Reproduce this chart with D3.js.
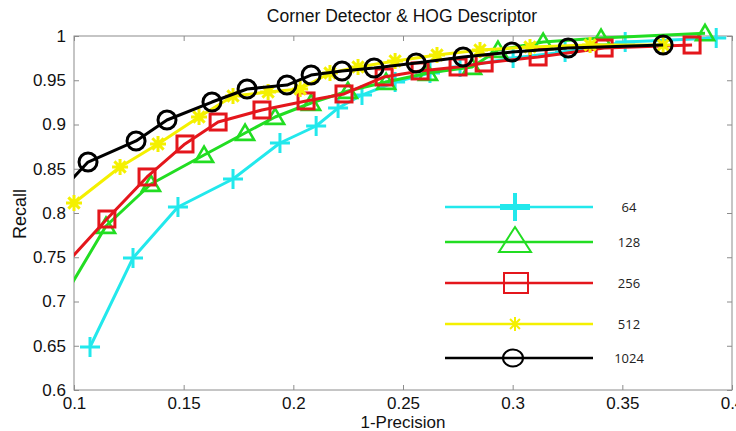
<!DOCTYPE html>
<html>
<head>
<meta charset="utf-8">
<script src="https://cdn.jsdelivr.net/npm/d3@7"></script>
<style>
  html, body { margin: 0; padding: 0; background: #fff; }
  svg { display: block; }
</style>
</head>
<body>
<svg id="chart" width="736" height="431"></svg>
<script>
// ---------- data ----------
const seriesNames = ["64", "128", "256", "512", "1024"];

const xTicks = [0.1, 0.15, 0.2, 0.25, 0.3, 0.35, 0.4];
const yTicks = [0.6, 0.65, 0.7, 0.75, 0.8, 0.85, 0.9, 0.95, 1];

const x64 = [0.1073, 0.1269, 0.1474, 0.1725, 0.1939, 0.2104, 0.2204, 0.2313, 0.2464, 0.2623, 0.276, 0.3002, 0.3239, 0.3513, 0.3928];
const y64 = [0.6486, 0.7492, 0.8068, 0.8384, 0.8791, 0.8983, 0.9186, 0.9333, 0.948, 0.9582, 0.965, 0.9751, 0.9819, 0.9932, 0.9977];

const x128 = [0.09, 0.1146, 0.1351, 0.1593, 0.178, 0.1917, 0.2081, 0.2249, 0.2423, 0.2614, 0.2815, 0.2933, 0.3139, 0.3403, 0.3877];
const y128 = [0.6825, 0.7853, 0.8328, 0.8655, 0.8904, 0.9085, 0.9243, 0.9379, 0.948, 0.9582, 0.965, 0.9842, 0.9932, 0.9977, 1.003];

const x256 = [0.09, 0.115, 0.1333, 0.1506, 0.1657, 0.1857, 0.2058, 0.2231, 0.2414, 0.2578, 0.2751, 0.287, 0.3116, 0.3417, 0.3818];
const y256 = [0.7254, 0.7932, 0.8407, 0.878, 0.9028, 0.9164, 0.9266, 0.9345, 0.9537, 0.9605, 0.965, 0.9695, 0.9763, 0.9864, 0.9898];

const x512 = [0.1, 0.121, 0.1383, 0.157, 0.1725, 0.1885, 0.2031, 0.2167, 0.2295, 0.2464, 0.2655, 0.2851, 0.3079, 0.3353, 0.3686];
const y512 = [0.8113, 0.852, 0.878, 0.9085, 0.9322, 0.9367, 0.9401, 0.9582, 0.965, 0.9718, 0.9785, 0.9842, 0.9876, 0.9898, 0.9898];

const x1024 = [0.09, 0.1064, 0.1283, 0.1424, 0.1629, 0.1789, 0.1971, 0.2081, 0.2222, 0.2368, 0.256, 0.2774, 0.2997, 0.3253, 0.3686];
const y1024 = [0.8143, 0.8576, 0.8814, 0.9051, 0.9254, 0.9401, 0.9446, 0.9559, 0.9605, 0.9638, 0.9695, 0.9763, 0.9819, 0.9864, 0.9898];

const xs = [x64, x128, x256, x512, x1024];
const ys = [y64, y128, y256, y512, y1024];

// ---------- styles ----------
const colors = ["#22e8ec", "#22dd22", "#e4161c", "#f4f000", "#000000"];
const shapes = ["plus", "triangle", "square", "star", "circle"];

const svg = d3.select("#chart");
const L = 74, R = 732, T = 36, B = 390;
const x = d3.scaleLinear().domain([0.1, 0.4]).range([L, R]);
const y = d3.scaleLinear().domain([0.6, 1]).range([B, T]);

const axisColor = "#8c8c8c";
const tickFont = "'Liberation Sans', Arial, sans-serif";

// frame
svg.append("rect").attr("x", L).attr("y", T).attr("width", R - L).attr("height", B - T)
  .attr("fill", "none").attr("stroke", axisColor).attr("stroke-width", 1);

// axes (ticks inward)
const gx = svg.append("g").attr("transform", `translate(0,${B})`)
  .call(d3.axisBottom(x).tickValues(xTicks).tickSize(-5).tickPadding(7).tickFormat(d3.format("~g")));
const gxTop = svg.append("g").attr("transform", `translate(0,${T})`)
  .call(d3.axisTop(x).tickValues(xTicks).tickSize(-5).tickFormat(""));
const gy = svg.append("g").attr("transform", `translate(${L},0)`)
  .call(d3.axisLeft(y).tickValues(yTicks).tickSize(-5).tickPadding(8).tickFormat(d3.format("~g")));
const gyR = svg.append("g").attr("transform", `translate(${R},0)`)
  .call(d3.axisRight(y).tickValues(yTicks).tickSize(-5).tickFormat(""));

[gx, gxTop, gy, gyR].forEach(g => {
  g.select(".domain").remove();
  g.selectAll(".tick line").attr("stroke", axisColor);
  g.selectAll(".tick text").attr("fill", "#111").attr("font-family", tickFont).attr("font-size", 17);
});

// clip for lines
svg.append("clipPath").attr("id", "plotclip").append("rect")
  .attr("x", L).attr("y", T - 10).attr("width", R - L).attr("height", B - T + 10);

function drawMarker(g, shape, cx, cy, color, s, sw) {
  if (shape === "plus") {
    g.append("path").attr("d", `M${cx - s},${cy}H${cx + s}M${cx},${cy - s}V${cy + s}`)
      .attr("stroke", color).attr("stroke-width", sw).attr("fill", "none");
  } else if (shape === "triangle") {
    const h = s * 1.7;
    g.append("path").attr("d", `M${cx},${cy - h * 0.55}L${cx + s},${cy + h * 0.45}L${cx - s},${cy + h * 0.45}Z`)
      .attr("stroke", color).attr("stroke-width", sw).attr("fill", "none");
  } else if (shape === "square") {
    g.append("rect").attr("x", cx - s).attr("y", cy - s).attr("width", 2 * s).attr("height", 2 * s)
      .attr("stroke", color).attr("stroke-width", sw).attr("fill", "none");
  } else if (shape === "star") {
    const d = s * 0.7071;
    g.append("path").attr("d",
      `M${cx - s},${cy}H${cx + s}M${cx},${cy - s}V${cy + s}M${cx - d},${cy - d}L${cx + d},${cy + d}M${cx - d},${cy + d}L${cx + d},${cy - d}`)
      .attr("stroke", color).attr("stroke-width", sw).attr("fill", "none");
  } else if (shape === "circle") {
    g.append("circle").attr("cx", cx).attr("cy", cy).attr("r", s)
      .attr("stroke", color).attr("stroke-width", sw).attr("fill", "none");
  }
}

const markerSize = [10, 9, 8, 8, 9];
const markerStroke = [3, 2.6, 3, 3, 3];

const line = d3.line().x(d => x(d[0])).y(d => y(d[1]));

seriesNames.forEach((name, i) => {
  const pts = xs[i].map((v, k) => [v, ys[i][k]]);
  const g = svg.append("g");
  g.append("path").datum(pts).attr("d", line)
    .attr("clip-path", "url(#plotclip)")
    .attr("fill", "none").attr("stroke", colors[i]).attr("stroke-width", 3)
    .attr("stroke-linejoin", "round");
  pts.filter(p => p[0] >= 0.1).forEach(p => {
    drawMarker(g, shapes[i], x(p[0]), y(p[1]), colors[i], markerSize[i], markerStroke[i]);
  });
});

// legend
const legY = [207, 242, 283, 324, 358];
const leg = svg.append("g");
seriesNames.forEach((name, i) => {
  const yy = legY[i];
  leg.append("line").attr("x1", 445).attr("x2", 593).attr("y1", yy).attr("y2", yy)
    .attr("stroke", colors[i]).attr("stroke-width", 2.5);
  if (shapes[i] === "plus") {
    leg.append("path").attr("d", `M500,${yy}H530`).attr("stroke", colors[i]).attr("stroke-width", 6);
    leg.append("path").attr("d", `M515,${yy - 14}V${yy + 14}`).attr("stroke", colors[i]).attr("stroke-width", 4);
  } else if (shapes[i] === "triangle") {
    leg.append("path").attr("d", `M515,${yy - 15}L531,${yy + 10}L499,${yy + 10}Z`)
      .attr("stroke", colors[i]).attr("stroke-width", 2).attr("fill", "none");
  } else if (shapes[i] === "square") {
    leg.append("rect").attr("x", 504).attr("y", yy - 10).attr("width", 24).attr("height", 20)
      .attr("stroke", colors[i]).attr("stroke-width", 2).attr("fill", "none");
  } else if (shapes[i] === "star") {
    drawMarker(leg, "star", 515, yy, colors[i], 7, 2);
  } else {
    leg.append("ellipse").attr("cx", 513).attr("cy", yy).attr("rx", 10).attr("ry", 8.5)
      .attr("stroke", colors[i]).attr("stroke-width", 2).attr("fill", "none");
  }
  leg.append("text").attr("x", 629).attr("y", yy).attr("dy", "0.35em")
    .attr("text-anchor", "middle").attr("font-family", "'Open Sans', sans-serif")
    .attr("font-size", 13).attr("fill", "#222").text(name);
});

// titles
svg.append("text").attr("x", 402).attr("y", 22).attr("text-anchor", "middle")
  .attr("font-family", tickFont).attr("font-size", 17.5).attr("fill", "#111")
  .text("Corner Detector & HOG Descriptor");
svg.append("text").attr("x", 403).attr("y", 428).attr("text-anchor", "middle")
  .attr("font-family", tickFont).attr("font-size", 17).attr("fill", "#111")
  .text("1-Precision");
svg.append("text").attr("transform", "translate(26,214) rotate(-90)").attr("text-anchor", "middle")
  .attr("font-family", tickFont).attr("font-size", 18).attr("fill", "#111")
  .text("Recall");
</script>
</body>
</html>
